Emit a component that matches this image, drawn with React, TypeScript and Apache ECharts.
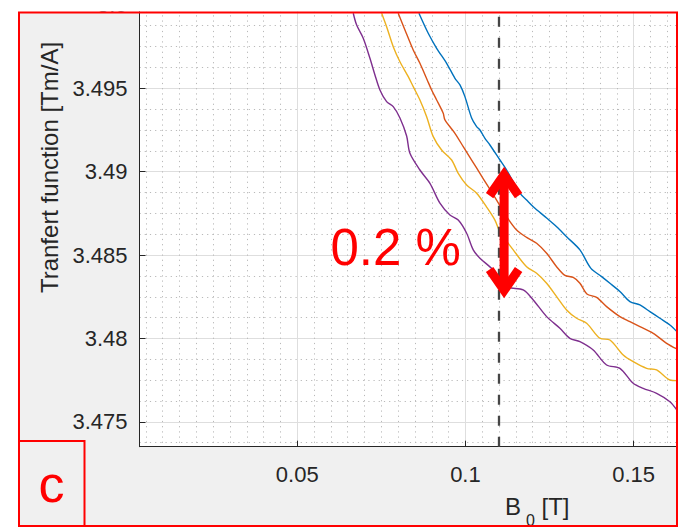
import React, { useEffect, useRef } from 'react';
import * as echarts from 'echarts';

// ---- data ----
const seriesNames = ['curve 1', 'curve 2', 'curve 3', 'curve 4'];
const seriesColors = ['#0072BD', '#D95319', '#EDB120', '#7E2F8E'];

const curveBlue: [number, number][] = [
  [0.08618, 3.4995], [0.08894, 3.4983], [0.09144, 3.4974], [0.09441, 3.4965],
  [0.09688, 3.4956], [0.09837, 3.4952], [0.09985, 3.4945], [0.10184, 3.49322],
  [0.10333, 3.4927], [0.10431, 3.4925], [0.1058, 3.492], [0.10728, 3.4916],
  [0.11026, 3.4907], [0.11225, 3.4901], [0.1162, 3.48871], [0.11819, 3.4883],
  [0.12016, 3.4879], [0.12414, 3.48722], [0.12711, 3.4867], [0.13008, 3.4861],
  [0.13404, 3.48531], [0.13731, 3.4842], [0.14049, 3.48371], [0.14296, 3.48331],
  [0.14593, 3.48281], [0.1489, 3.48221], [0.15187, 3.48201], [0.15485, 3.48161],
  [0.15782, 3.48121], [0.16079, 3.48081], [0.16287, 3.48041],
];

const curveOrange: [number, number][] = [
  [0.08002, 3.4995], [0.08202, 3.4985], [0.08448, 3.4973], [0.08647, 3.4965],
  [0.08864, 3.4955], [0.08995, 3.4949], [0.09144, 3.4943], [0.0934, 3.4935],
  [0.09391, 3.4931], [0.09688, 3.4923], [0.09935, 3.4915], [0.10184, 3.4907],
  [0.10431, 3.4899], [0.10678, 3.4891], [0.10927, 3.4883], [0.11225, 3.4873],
  [0.11522, 3.4865], [0.11819, 3.48606], [0.12117, 3.48571], [0.12414, 3.48511],
  [0.12711, 3.4843], [0.12958, 3.48378], [0.13205, 3.48366], [0.13404, 3.48331],
  [0.13612, 3.48267], [0.139, 3.48246], [0.14197, 3.48191], [0.14593, 3.48131],
  [0.1489, 3.48101], [0.15187, 3.48071], [0.15583, 3.48031], [0.15981, 3.47971],
  [0.16287, 3.47937],
];

const curveYellow: [number, number][] = [
  [0.07509, 3.4995], [0.07657, 3.49869], [0.07854, 3.49749], [0.08053, 3.49659],
  [0.083, 3.4957], [0.08448, 3.4951], [0.08647, 3.4943], [0.08847, 3.4933],
  [0.09043, 3.4921], [0.09292, 3.4913], [0.0959, 3.4907], [0.09786, 3.4899],
  [0.10036, 3.4892], [0.10333, 3.48871], [0.1063, 3.48788], [0.10877, 3.4871],
  [0.11026, 3.48639], [0.11421, 3.48531], [0.11819, 3.4843], [0.12117, 3.48391],
  [0.12414, 3.48331], [0.12711, 3.48251], [0.13008, 3.48171], [0.13306, 3.48121],
  [0.13603, 3.48091], [0.13998, 3.48001], [0.14296, 3.47991], [0.14691, 3.47901],
  [0.14988, 3.47861], [0.15387, 3.47821], [0.15684, 3.47811], [0.16079, 3.47751],
  [0.16287, 3.47747],
];

const curvePurple: [number, number][] = [
  [0.06665, 3.4995], [0.06766, 3.49879], [0.06962, 3.498], [0.07161, 3.4968],
  [0.0731, 3.4958], [0.07458, 3.4949], [0.07657, 3.4942], [0.07854, 3.4939],
  [0.08053, 3.49322], [0.08252, 3.49214], [0.0835, 3.4911], [0.08647, 3.4901],
  [0.08945, 3.4893], [0.09242, 3.48811], [0.09539, 3.4874], [0.09786, 3.4871],
  [0.10036, 3.48631], [0.10232, 3.48531], [0.10431, 3.48481], [0.10826, 3.48411],
  [0.11225, 3.48311], [0.11718, 3.48291], [0.12016, 3.48231], [0.12414, 3.48131],
  [0.12809, 3.48061], [0.13106, 3.48001], [0.13404, 3.47981], [0.13799, 3.47931],
  [0.14197, 3.47841], [0.14593, 3.47821], [0.14988, 3.47731], [0.15285, 3.47701],
  [0.15684, 3.47671], [0.16079, 3.47621], [0.16287, 3.47571],
];

const curves = [curveBlue, curveOrange, curveYellow, curvePurple];

const xRange = [0.0031, 0.1629];
const yRange = [3.47351, 3.5];
const xTickStep = 0.05;
const yTickStep = 0.005;
const xMinorSplit = 10;
const yMinorSplit = 4;

const markerB0 = 0.11;
const arrowB0 = 0.1115;
const arrowTop = 3.4903;
const arrowBottom = 3.4824;

const spreadLabel = '0.2 %';
const panelLabel = 'c';
const yAxisTitle = 'Tranfert function [Tm/A]';
const xAxisTitleMain = 'B';
const xAxisTitleSub = '0';
const xAxisTitleUnit = '[T]';

const FONT = '"Liberation Sans", Arial, Helvetica, sans-serif';
const TXT = '#262626';
const RED = '#ff0000';

export default function App() {
  const ref = useRef<HTMLDivElement>(null);

  useEffect(() => {
    if (!ref.current) return;
    const chart = echarts.init(ref.current, undefined, { renderer: 'svg' });

    const axisCommon = {
      type: 'value' as const,
      axisLine: { show: true, onZero: false, lineStyle: { color: TXT, width: 1 } },
      axisTick: { show: true, inside: true, length: 6, lineStyle: { color: TXT, width: 1 } },
      splitLine: { show: true, lineStyle: { color: '#dedede', width: 1 } },
      minorSplitLine: { show: true, lineStyle: { color: '#b9b9b9', width: 1, type: [1.2, 4] } },
    };

    const option: any = {
      animation: false,
      backgroundColor: '#ffffff',
      grid: { left: 139.5, top: 4.9, right: 9, bottom: 83.3, containLabel: false, outerBoundsMode: 'none' },
      xAxis: {
        ...axisCommon,
        min: xRange[0],
        max: xRange[1],
        minInterval: xTickStep,
        maxInterval: xTickStep,
        splitNumber: 3,
        minorTick: { show: false, splitNumber: xMinorSplit },
        axisLabel: {
          show: true, showMinLabel: false, showMaxLabel: false, margin: 17,
          color: TXT, fontSize: 22, fontFamily: FONT,
        },
      },
      yAxis: {
        ...axisCommon,
        min: yRange[0],
        max: yRange[1],
        minInterval: yTickStep,
        maxInterval: yTickStep,
        splitNumber: 5,
        minorTick: { show: false, splitNumber: yMinorSplit },
        axisLabel: {
          show: true, showMinLabel: false, showMaxLabel: true, margin: 12,
          color: TXT, fontSize: 22, fontFamily: FONT,
        },
      },
      series: curves.map((data, i) => ({
        name: seriesNames[i],
        type: 'line',
        data,
        symbol: 'none',
        showSymbol: false,
        smooth: 0.3,
        clip: true,
        lineStyle: { color: seriesColors[i], width: 1.4 },
        z: 3,
        ...(i === 0
          ? {
              markLine: {
                silent: true,
                symbol: 'none',
                label: { show: false },
                lineStyle: { color: '#454545', width: 2.3, type: [10, 11] },
                data: [{ xAxis: markerB0 }],
              },
            }
          : {}),
      })),
    };

    chart.setOption(option);

    const pTop = chart.convertToPixel({ gridIndex: 0 }, [arrowB0, arrowTop]) as number[];
    const pBot = chart.convertToPixel({ gridIndex: 0 }, [arrowB0, arrowBottom]) as number[];
    const ax = pTop[0];
    const topV = pTop[1] + 8;
    const botV = pBot[1] - 8;
    const wingX = 14.5;
    const wingY = 21;
    const arrowStyle = { stroke: RED, lineWidth: 9, fill: 'none', lineJoin: 'miter', lineCap: 'butt' };

    const graphic: any[] = [
      { type: 'rect', z: -20, silent: true, shape: { x: 19, y: 12.5, width: 658, height: 513.5 }, style: { fill: '#f0f0f0' } },
      { type: 'rect', z: -10, silent: true, shape: { x: 139.5, y: 4.9, width: 537.5, height: 441.8 }, style: { fill: '#ffffff' } },
      // annotations
      { type: 'line', z: 50, silent: true, shape: { x1: ax, y1: topV, x2: ax, y2: botV }, style: arrowStyle },
      { type: 'polyline', z: 50, silent: true, shape: { points: [[ax - wingX, topV + wingY], [ax, topV], [ax + wingX, topV + wingY]] }, style: arrowStyle },
      { type: 'polyline', z: 50, silent: true, shape: { points: [[ax - wingX, botV - wingY], [ax, botV], [ax + wingX, botV - wingY]] }, style: arrowStyle },
      { type: 'text', z: 50, silent: true, x: 330.5, y: 247, style: { text: spreadLabel, fill: RED, fontSize: 51, fontFamily: FONT, align: 'left', verticalAlign: 'middle' } },
      // covers outside the figure frame
      { type: 'rect', z: 100, silent: true, shape: { x: 0, y: 0, width: 686, height: 11.5 }, style: { fill: '#ffffff' } },
      { type: 'rect', z: 100, silent: true, shape: { x: 678, y: 0, width: 8, height: 530 }, style: { fill: '#ffffff' } },
      { type: 'rect', z: 100, silent: true, shape: { x: 0, y: 0, width: 18, height: 530 }, style: { fill: '#ffffff' } },
      { type: 'rect', z: 100, silent: true, shape: { x: 0, y: 527, width: 686, height: 3 }, style: { fill: '#ffffff' } },
      // titles
      { type: 'text', z: 101, silent: true, x: 49, y: 167.5, rotation: Math.PI / 2, style: { text: yAxisTitle, fill: TXT, fontSize: 24, fontFamily: FONT, align: 'center', verticalAlign: 'middle' } },
      { type: 'text', z: 101, silent: true, x: 505, y: 506.7, style: { text: xAxisTitleMain, fill: TXT, fontSize: 24, fontFamily: FONT, align: 'left', verticalAlign: 'middle' } },
      { type: 'text', z: 101, silent: true, x: 526, y: 520.5, style: { text: xAxisTitleSub, fill: TXT, fontSize: 16, fontFamily: FONT, align: 'left', verticalAlign: 'middle' } },
      { type: 'text', z: 101, silent: true, x: 541.5, y: 506.7, style: { text: xAxisTitleUnit, fill: TXT, fontSize: 24, fontFamily: FONT, align: 'left', verticalAlign: 'middle' } },
      // red frames
      { type: 'rect', z: 102, silent: true, shape: { x: 19, y: 12.5, width: 658, height: 513.5 }, style: { fill: 'none', stroke: RED, lineWidth: 2 } },
      { type: 'rect', z: 102, silent: true, shape: { x: 19, y: 441, width: 65.5, height: 85 }, style: { fill: 'none', stroke: RED, lineWidth: 2 } },
      { type: 'text', z: 102, silent: true, x: 51.5, y: 484, style: { text: panelLabel, fill: RED, fontSize: 52, fontFamily: FONT, align: 'center', verticalAlign: 'middle' } },
    ];

    chart.setOption({ graphic });

    return () => chart.dispose();
  }, []);

  return (
    <div
      ref={ref}
      style={{ position: 'absolute', left: 0, top: 0, width: 686, height: 530 }}
    />
  );
}
